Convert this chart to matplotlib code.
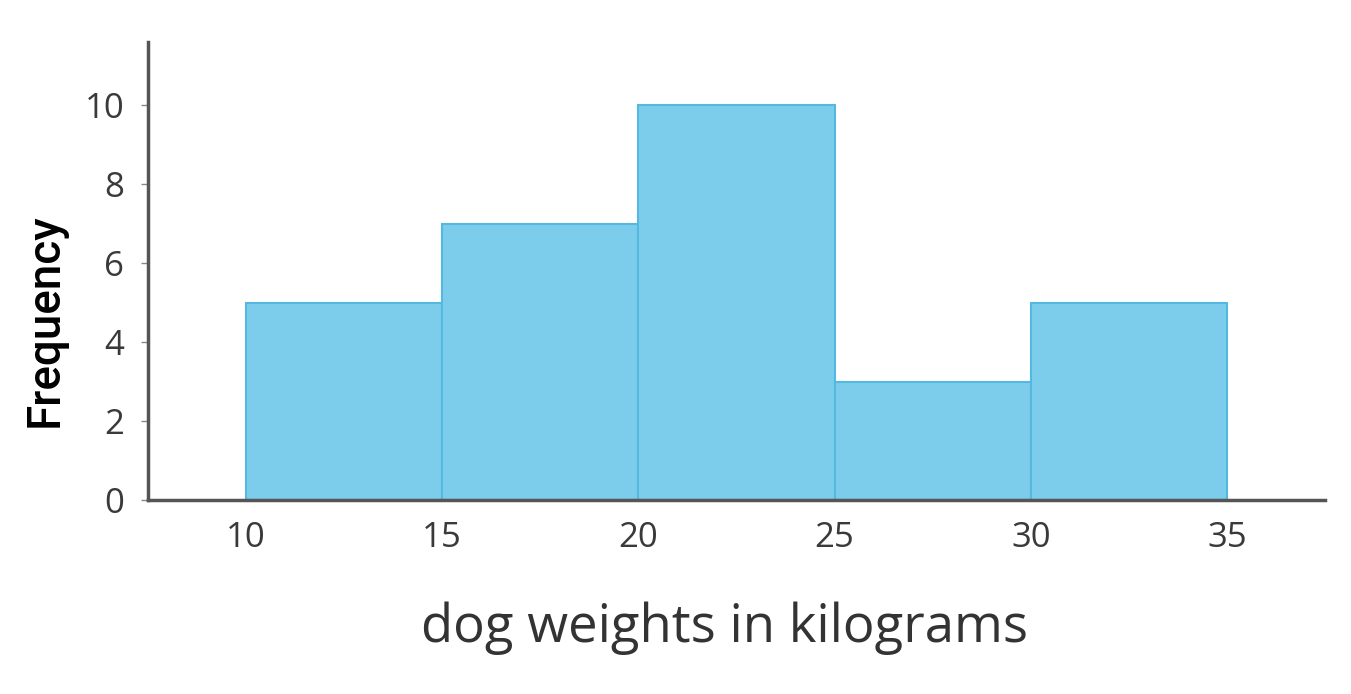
import matplotlib.pyplot as plt

# histogram data
bin_edges = [10, 15, 20, 25, 30, 35]
frequency = [5, 7, 10, 3, 5]
y_ticks = [0, 2, 4, 6, 8, 10]

fig = plt.figure(figsize=(13.51, 6.94), dpi=100)
ax = fig.add_axes([0.1095, 0.2795, 0.8713, 0.66])

ax.bar(bin_edges[:-1], frequency, width=5, align='edge',
       color='#7BCDEB', edgecolor='#55B8E0', linewidth=1.5, zorder=2)

ax.set_xlim(7.5, 37.5)
ax.set_ylim(0, 11.6)
ax.set_xticks(bin_edges)
ax.set_yticks(y_ticks)

for side in ['top', 'right']:
    ax.spines[side].set_visible(False)
for side in ['left', 'bottom']:
    ax.spines[side].set_color('#555555')
    ax.spines[side].set_linewidth(2.5)
    ax.spines[side].set_zorder(3)

ax.tick_params(axis='x', length=0, pad=15, labelsize=25, labelcolor='#3a3a3a')
ax.tick_params(axis='y', length=5, width=1, color='#888888', pad=12,
               labelsize=25, labelcolor='#3a3a3a')
for lab in ax.get_xticklabels() + ax.get_yticklabels():
    lab.set_fontfamily('Open Sans')

ax.set_xlabel('dog weights in kilograms', fontsize=38, color='#333333',
              family='Open Sans')
ax.xaxis.set_label_coords(0.49, -0.28)
ax.xaxis.label.set_va('center')
fig.text(0.033, 0.539, 'Frequency', rotation=90, fontsize=33,
         color='black', ha='center', va='center', family='Roboto',
         fontweight='medium')

fig.savefig('out.png', dpi=100)
